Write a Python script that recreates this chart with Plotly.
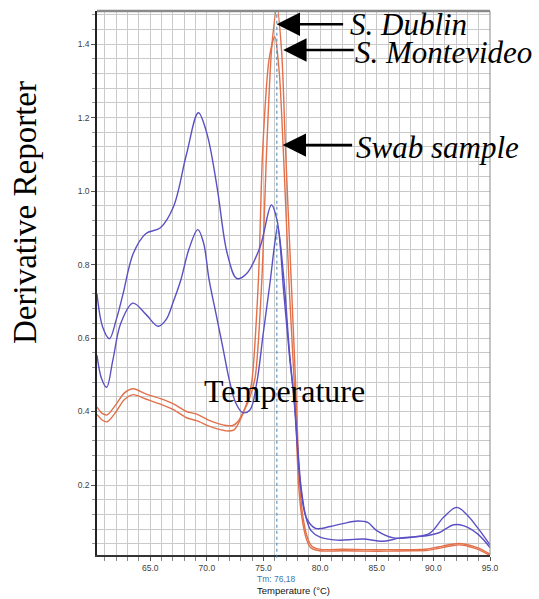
import plotly.graph_objects as go

# ---------------- data ----------------
TM = 76.18
TM_LABEL = "Tm: 76,18"

# upper blue curve
blue_a_t = [60.3, 60.8, 61.4, 62.0, 62.6, 63.5, 64.6, 65.9, 67.05, 68.2, 69.25, 70.0, 70.9,
            71.8, 72.65, 73.5, 74.7, 75.7, 76.2, 76.8, 77.3, 77.7, 78.3, 78.8, 79.6, 80.9,
            82.0, 83.3, 84.2, 85.0, 86.5, 88.2, 89.7, 90.9, 92.05, 92.9, 94.0, 95.0]
blue_a_v = [0.72, 0.63, 0.598, 0.65, 0.72, 0.83, 0.884, 0.90, 0.957, 1.10, 1.213, 1.157, 1.011,
            0.83, 0.762, 0.775, 0.848, 0.962, 0.92, 0.72, 0.55, 0.43, 0.19, 0.11, 0.082, 0.087,
            0.095, 0.102, 0.098, 0.076, 0.056, 0.058, 0.069, 0.112, 0.139, 0.121, 0.08, 0.037]

# lower blue curve
blue_b_t = [60.3, 60.7, 61.15, 61.7, 62.4, 63.47, 64.6, 65.7, 66.4, 67.05, 67.7, 68.4, 69.2,
            69.7, 70.2, 70.8, 71.4, 71.98, 72.57, 73.16, 73.8, 74.4, 74.98, 75.57, 76.0, 76.25,
            76.8, 77.3, 77.75, 78.3, 78.75, 79.2, 80.0, 81.5, 83.0, 83.8, 85.6, 87.1, 89.4,
            90.5, 91.8, 92.7, 93.9, 95.0]
blue_b_v = [0.553, 0.49, 0.466, 0.54, 0.64, 0.695, 0.665, 0.632, 0.65, 0.70, 0.758, 0.84, 0.895,
            0.86, 0.758, 0.667, 0.576, 0.486, 0.422, 0.397, 0.404, 0.477, 0.613, 0.749, 0.858, 0.903,
            0.76, 0.56, 0.42, 0.2, 0.112, 0.076, 0.058, 0.05, 0.052, 0.053, 0.047, 0.056, 0.062,
            0.07, 0.092, 0.089, 0.067, 0.03]

# orange curve with the highest peak (S. Dublin)
orange_a_t = [60.3, 60.75, 61.2, 62.0, 62.7, 63.5, 64.6, 65.9, 67.05, 68.2, 69.1, 70.2, 71.0,
              71.7, 72.3, 72.8, 73.2, 73.7, 74.25, 74.84, 75.28, 75.75, 76.2, 76.6, 76.95, 77.5,
              77.9, 78.2, 78.5, 78.9, 79.25, 79.7, 80.5, 82.0, 84.0, 86.0, 88.0, 89.5, 90.5,
              91.5, 92.3, 93.2, 94.0, 95.0]
orange_a_v = [0.412, 0.395, 0.391, 0.42, 0.45, 0.462, 0.448, 0.435, 0.421, 0.40, 0.393, 0.376, 0.367,
              0.362, 0.362, 0.375, 0.398, 0.43, 0.49, 0.749, 1.112, 1.40, 1.50, 1.38, 1.11, 0.72,
              0.43, 0.2, 0.11, 0.055, 0.034, 0.027, 0.024, 0.025, 0.024, 0.024, 0.024, 0.026, 0.032,
              0.038, 0.041, 0.036, 0.028, 0.012]

# orange curve with the second peak (S. Montevideo)
orange_b_t = [60.3, 60.75, 61.2, 62.0, 62.7, 63.5, 64.6, 65.9, 67.05, 68.2, 69.1, 70.2, 71.0,
              71.85, 72.4, 72.8, 73.2, 73.6, 73.95, 74.54, 74.93, 75.5, 76.0, 76.4, 76.75, 77.3,
              77.8, 78.1, 78.4, 78.8, 79.15, 79.6, 80.5, 82.0, 84.0, 86.0, 88.0, 89.5, 90.5,
              91.5, 92.3, 93.2, 94.0, 95.0]
orange_b_v = [0.392, 0.377, 0.372, 0.40, 0.432, 0.446, 0.434, 0.42, 0.405, 0.383, 0.375, 0.36, 0.352,
              0.347, 0.35, 0.368, 0.395, 0.43, 0.477, 0.749, 1.112, 1.36, 1.42, 1.32, 1.11, 0.72,
              0.43, 0.2, 0.11, 0.052, 0.03, 0.023, 0.02, 0.021, 0.02, 0.02, 0.021, 0.022, 0.028,
              0.034, 0.037, 0.032, 0.024, 0.008]

X_TICKS = [65.0, 70.0, 75.0, 80.0, 85.0, 90.0, 95.0]
Y_TICKS = [0.2, 0.4, 0.6, 0.8, 1.0, 1.2, 1.4]

BLUE = "#5a50c4"
ORANGE = "#e2704a"
GRID = "#c9c9c9"

fig = go.Figure()
for t, v, c, name, sm in [(orange_b_t, orange_b_v, ORANGE, "S. Montevideo", 0.8),
                          (orange_a_t, orange_a_v, ORANGE, "S. Dublin", 0.8),
                          (blue_b_t, blue_b_v, BLUE, "Swab sample B", 1.0),
                          (blue_a_t, blue_a_v, BLUE, "Swab sample A", 1.0)]:
    fig.add_trace(go.Scatter(x=t, y=v, mode="lines", name=name,
                             line=dict(color=c, width=1.4, shape="spline", smoothing=sm),
                             hoverinfo="x+y"))

fig.update_layout(
    width=539, height=599,
    margin=dict(l=97, r=49, t=11, b=44, autoexpand=False),
    paper_bgcolor="white", plot_bgcolor="white",
    showlegend=False,
    font=dict(family="Liberation Sans, Arial", size=8, color="#404040"),
)
fig.update_xaxes(
    range=[60.3, 95.0], tickvals=X_TICKS, tickformat=".1f",
    ticks="outside", ticklen=4, tickcolor="#555",
    showgrid=True, gridcolor=GRID, gridwidth=1,
    minor=dict(dtick=1, tick0=60, showgrid=True, gridcolor=GRID, ticks="outside",
               ticklen=4, tickcolor="#888"),
    showline=True, linecolor="#333", linewidth=1.5, zeroline=False,
    tickfont=dict(size=8.5, color="#404040"),
)
fig.update_yaxes(
    range=[0.0095, 1.49], tickvals=Y_TICKS, tickformat=".1f",
    ticks="outside", ticklen=4, tickcolor="#555",
    showgrid=True, gridcolor=GRID, gridwidth=1,
    minor=dict(dtick=0.04, tick0=0, showgrid=True, gridcolor=GRID, ticks="outside",
               ticklen=3, tickcolor="#999"),
    showline=True, linecolor="#222", linewidth=1.5, zeroline=False,
    tickfont=dict(size=8.5, color="#404040"),
)

# borders (top thick gray, right thin gray) and Tm marker line
fig.add_shape(type="line", xref="paper", yref="paper", x0=0, x1=1, y0=1, y1=1,
              line=dict(color="#8a8a8a", width=2.5))
fig.add_shape(type="line", xref="paper", yref="paper", x0=1, x1=1, y0=0, y1=1,
              line=dict(color="#8a8a8a", width=1))
fig.add_shape(type="line", xref="x", yref="paper", x0=TM, x1=TM, y0=-0.005, y1=1,
              line=dict(color="#3f80b0", width=1, dash="dot"))

serif = "Liberation Serif, Times New Roman, serif"
ann = []
ann.append(dict(text=TM_LABEL, x=TM, xref="x", y=0, yref="paper", yanchor="top",
                xanchor="center", yshift=-17, showarrow=False,
                font=dict(size=8.5, color="#3a78b0")))
ann.append(dict(text="Temperature (°C)", x=0.5, xref="paper", y=0, yref="paper",
                xanchor="center", yanchor="top", yshift=-28, showarrow=False,
                font=dict(size=9.5, color="#111")))
ann.append(dict(text="Derivative Reporter", x=0, xref="paper", xshift=-72,
                xanchor="center", yanchor="middle",
                y=0.5, yref="paper", yshift=70, textangle=-90, showarrow=False,
                font=dict(family=serif, size=33, color="#000")))
ann.append(dict(text="Temperature", x=0.476, xref="paper", y=0.302, yref="paper",
                xanchor="center", yanchor="middle",
                showarrow=False, font=dict(family=serif, size=32, color="#000")))

labels = [("<i>S. Dublin</i>", 349, 24), ("<i>S. Montevideo</i>", 354, 53),
          ("<i>Swab sample</i>", 355, 147)]
for txt, px, py in labels:
    ann.append(dict(text=txt, x=(px - 97) / 393, xref="paper", xanchor="left",
                    y=(555 - py) / 544, yref="paper", yanchor="middle", showarrow=False,
                    borderpad=0, font=dict(family=serif, size=31, color="#000")))

# arrows: tip on the curves, tail next to the label
arrows = [(76.16, 1.454, 68), (76.74, 1.384, 72), (76.69, 1.125, 71)]
for xt, yt, dx in arrows:
    ann.append(dict(text="", x=xt, y=yt, xref="x", yref="y", ax=dx, ay=0,
                    showarrow=True, arrowhead=2, arrowsize=1.8, arrowwidth=2.6,
                    arrowcolor="#000", standoff=0))

fig.update_layout(annotations=ann)
fig.write_html("out.html", config={"displayModeBar": False},
               post_script="document.body.style.margin='0';document.body.style.padding='0';")
